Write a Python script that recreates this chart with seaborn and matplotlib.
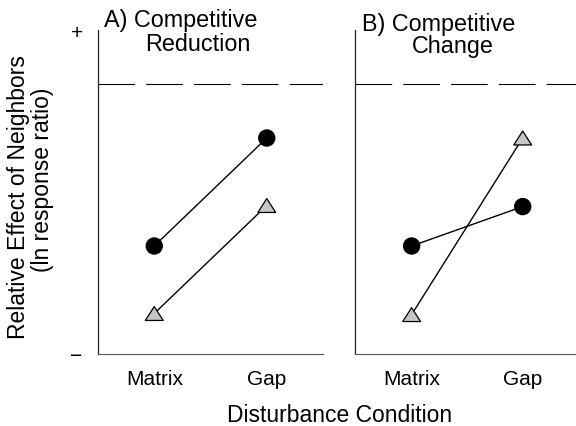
import matplotlib
matplotlib.use("Agg")
import matplotlib.pyplot as plt
from matplotlib.path import Path
import pandas as pd
import seaborn as sns

# ---- data -------------------------------------------------------------
conditions = ["Matrix", "Gap"]
panel_ids = ["A", "B"]
panel_titles = {"A": ("A) Competitive", "Reduction"),
                "B": ("B) Competitive", "Change")}

# relative effect of neighbours (ln response ratio), scale 0 (−) .. 6 (+)
circle_A = [2.0, 4.0]
triangle_A = [0.75, 2.75]
circle_B = [2.0, 2.73]
triangle_B = [0.73, 4.0]

y_ticks = [0, 1, 2, 3, 4, 5, 6]
y_tick_labels = ["\u2212", "", "", "", "", "", "+"]
no_effect_level = 5

rows = []
for panel, circ, tri in [("A", circle_A, triangle_A), ("B", circle_B, triangle_B)]:
    for i, cond in enumerate(conditions):
        rows.append({"panel": panel, "condition": cond, "pos": i,
                     "series": "circle", "value": circ[i]})
        rows.append({"panel": panel, "condition": cond, "pos": i,
                     "series": "triangle", "value": tri[i]})
df = pd.DataFrame(rows)

# ---- style ------------------------------------------------------------
sns.set_theme(style="white")
plt.rcParams["font.family"] = ["Liberation Sans", "DejaVu Sans"]
plt.rcParams["text.color"] = "black"
plt.rcParams["axes.labelcolor"] = "black"
plt.rcParams["xtick.color"] = "black"
plt.rcParams["ytick.color"] = "black"

W, H = 576, 427
fig = plt.figure(figsize=(W / 100, H / 100), dpi=100)


def px_axes(x0, y0, x1, y1):
    return fig.add_axes([x0 / W, 1 - y1 / H, (x1 - x0) / W, (y1 - y0) / H])


axes = {"A": px_axes(98, 31, 323, 355), "B": px_axes(355, 31, 576, 355)}
xlims = {"A": (-0.5, 1.5), "B": (-0.51, 1.48)}

flat_triangle = Path([(-1, -0.78), (1, -0.78), (0, 0.78), (-1, -0.78)],
                     [Path.MOVETO, Path.LINETO, Path.LINETO, Path.CLOSEPOLY])

for pid in panel_ids:
    ax = axes[pid]
    sub = df[df["panel"] == pid]

    ax.axhline(no_effect_level, color="black", lw=0.8,
               linestyle=(0, (33, 10)), zorder=1)

    sns.lineplot(data=sub, x="pos", y="value", units="series",
                 estimator=None, color="black", lw=1.0, ax=ax,
                 legend=False, zorder=2)
    sns.scatterplot(data=sub, x="pos", y="value", hue="series",
                    style="series", size="series",
                    markers={"circle": "o", "triangle": flat_triangle},
                    palette={"circle": "black", "triangle": "#c6c6c6"},
                    sizes={"circle": 135, "triangle": 165},
                    edgecolor="black", linewidth=0.9, ax=ax,
                    legend=False, zorder=3)

    ax.set_xlim(*xlims[pid])
    ax.set_ylim(0, 6)
    ax.set_xticks([0, 1])
    ax.set_xticklabels(conditions, fontsize=15)
    ax.set_yticks(y_ticks)
    if pid == "A":
        ax.set_yticklabels(y_tick_labels, fontsize=15)
    else:
        ax.set_yticklabels([""] * len(y_ticks))
    ax.set_xlabel("")
    ax.set_ylabel("")
    ax.tick_params(axis="x", direction="out", length=4, width=0.8,
                   color="#333333", pad=7, labelcolor="black")
    ax.tick_params(axis="y", direction="out", length=4, width=0.8,
                   color="#333333", pad=7, labelcolor="black")

    for side in ["top", "right"]:
        ax.spines[side].set_visible(False)
    ax.spines["left"].set_color("#222222")
    ax.spines["left"].set_linewidth(0.9)
    ax.spines["bottom"].set_color("#555555")
    ax.spines["bottom"].set_linewidth(0.8)
    ax.set_facecolor("white")

# panel titles
title_pos = {"A": ((104, 27), (198, 51)), "B": ((362, 31), (453, 53))}
for pid in panel_ids:
    (x1, y1), (x2, y2) = title_pos[pid]
    line1, line2 = panel_titles[pid]
    fig.text(x1 / W, 1 - y1 / H, line1, ha="left", va="baseline",
             fontsize=16.8, color="black")
    fig.text(x2 / W, 1 - y2 / H, line2, ha="center", va="baseline",
             fontsize=16.8, color="black")

# axis titles
fig.text(19 / W, 1 - 197 / H, "Relative Effect of Neighbors", rotation=90,
         ha="center", va="center", fontsize=16.5, color="black")
fig.text(43 / W, 1 - 180 / H, "(ln response ratio)", rotation=90,
         ha="center", va="center", fontsize=16.5, color="black")
fig.text(340 / W, 1 - 422 / H, "Disturbance Condition", ha="center",
         va="baseline", fontsize=16.5, color="black")

fig.savefig("out.png", dpi=100, facecolor="white")
